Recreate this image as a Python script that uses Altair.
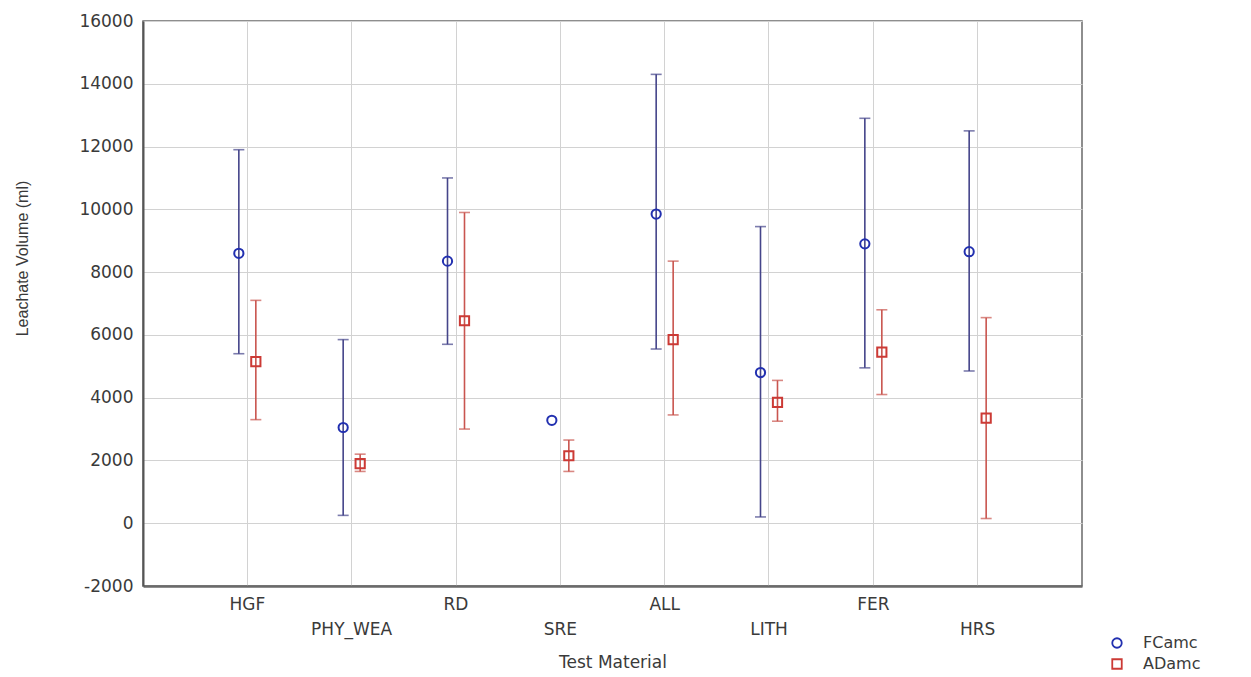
import altair as alt
import pandas as pd

materials = ["HGF", "PHY_WEA", "RD", "SRE", "ALL", "LITH", "FER", "HRS"]
series_names = ["FCamc", "ADamc"]

fc_mean = [8600, 3050, 8350, 3280, 9850, 4800, 8900, 8650]
fc_lo = [5400, 250, 5700, None, 5550, 200, 4950, 4850]
fc_hi = [11900, 5850, 11000, None, 14300, 9450, 12900, 12500]

ad_mean = [5150, 1900, 6450, 2150, 5850, 3850, 5450, 3350]
ad_lo = [3300, 1650, 3000, 1650, 3450, 3250, 4100, 150]
ad_hi = [7100, 2200, 9900, 2650, 8350, 4550, 6800, 6550]

y_ticks = list(range(-2000, 16001, 2000))

rows = []
for i, m in enumerate(materials):
    rows.append({"material": m, "series": "FCamc", "mean": fc_mean[i], "lo": fc_lo[i], "hi": fc_hi[i]})
    rows.append({"material": m, "series": "ADamc", "mean": ad_mean[i], "lo": ad_lo[i], "hi": ad_hi[i]})
df = pd.DataFrame(rows)

BLUE = "#2230b0"
BLUE_BAR = "#45458a"
RED = "#cc3a35"
RED_BAR = "#c9554f"
FONT = "DejaVu Sans"
TXT = "#3a3a3a"

lower_labels = "['PHY_WEA','SRE','LITH','HRS']"

x_enc = alt.X(
    "material:N",
    sort=materials,
    scale=alt.Scale(domain=materials, paddingInner=0, paddingOuter=0.5),
    axis=alt.Axis(
        title="Test Material",
        labelAngle=0,
        labelExpr=f"indexof({lower_labels}, datum.value) >= 0 ? ['', datum.value] : datum.value",
        labelLineHeight=25,
        labelFontSize=17,
        labelFont=FONT,
        labelColor=TXT,
        labelPadding=10,
        ticks=False,
        bandPosition=0.5,
        grid=True,
        gridColor="#d2d2d2",
        gridWidth=1,
        domainColor="#6a6a6a",
        domainWidth=2.5,
        titleFont=FONT,
        titleFontSize=17,
        titleFontWeight="normal",
        titleColor=TXT,
        titleY=76,
        titleBaseline="middle",
    ),
)
# slots within each category band; the two series sit in the middle slots
offset_slots = ["s1", "s2", "FCamc", "ADamc", "s3", "s4"]
xoff = alt.XOffset(
    "series:N",
    scale=alt.Scale(domain=offset_slots, paddingInner=0, paddingOuter=0.07),
)
y_scale = alt.Scale(domain=[-2000, 16000], nice=False, zero=False)
y_axis = alt.Axis(
    title="Leachate Volume (ml)",
    values=y_ticks,
    labelExpr="datum.value < 0 ? '-' + abs(datum.value) : '' + datum.value",
    labelFontSize=17,
    labelFont=FONT,
    labelColor=TXT,
    labelPadding=10,
    ticks=False,
    grid=True,
    gridColor="#d2d2d2",
    gridWidth=1,
    domainColor="#555555",
    domainWidth=2,
    titleFont="Liberation Sans",
    titleFontSize=16,
    titleFontWeight="normal",
    titleColor=TXT,
    titleX=-121,
    titleY=237,
    titleBaseline="middle",
)

color_scale = alt.Scale(domain=series_names, range=[BLUE, RED])
is_fc = "datum.series == 'FCamc'"

base = alt.Chart(df)

bars = base.transform_filter("isValid(datum.lo)").mark_rule(strokeWidth=1.6).encode(
    x=x_enc,
    xOffset=xoff,
    y=alt.Y("lo:Q", scale=y_scale, axis=y_axis),
    y2="hi:Q",
    stroke=alt.condition(is_fc, alt.value(BLUE_BAR), alt.value(RED_BAR)),
)

caps_hi = base.transform_filter("isValid(datum.hi)").mark_tick(size=11, thickness=1.6).encode(
    x=x_enc,
    xOffset=xoff,
    y=alt.Y("hi:Q", scale=y_scale, axis=y_axis),
    fill=alt.condition(is_fc, alt.value(BLUE_BAR), alt.value(RED_BAR)),
)
caps_lo = base.transform_filter("isValid(datum.lo)").mark_tick(size=11, thickness=1.6).encode(
    x=x_enc,
    xOffset=xoff,
    y=alt.Y("lo:Q", scale=y_scale, axis=y_axis),
    fill=alt.condition(is_fc, alt.value(BLUE_BAR), alt.value(RED_BAR)),
)

legend_cfg = dict(
    title=None,
    orient="none",
    legendX=966,
    legendY=614,
    labelFont=FONT,
    labelFontSize=16,
    labelColor=TXT,
    labelOffset=18,
    symbolStrokeWidth=1.8,
    symbolSize=90,
    rowPadding=3,
)

points = base.mark_point(filled=False, strokeWidth=2, opacity=1, size=85).encode(
    x=x_enc,
    xOffset=xoff,
    y=alt.Y("mean:Q", scale=y_scale, axis=y_axis),
    color=alt.Color("series:N", scale=color_scale, legend=alt.Legend(**legend_cfg)),
    shape=alt.Shape(
        "series:N",
        scale=alt.Scale(domain=series_names, range=["circle", "square"]),
        legend=alt.Legend(**legend_cfg),
    ),
)

chart = (
    alt.layer(bars, caps_hi, caps_lo, points)
    .properties(
        width=939,
        height=565,
        autosize=alt.AutoSizeParams(type="none"),
        padding={"left": 135, "top": 13, "right": 160, "bottom": 90},
        background="white",
    )
    .configure_view(stroke="#6a6a6a", strokeWidth=1.5)
)

chart.save("out.html", embed_options={"renderer": "svg", "actions": False})
